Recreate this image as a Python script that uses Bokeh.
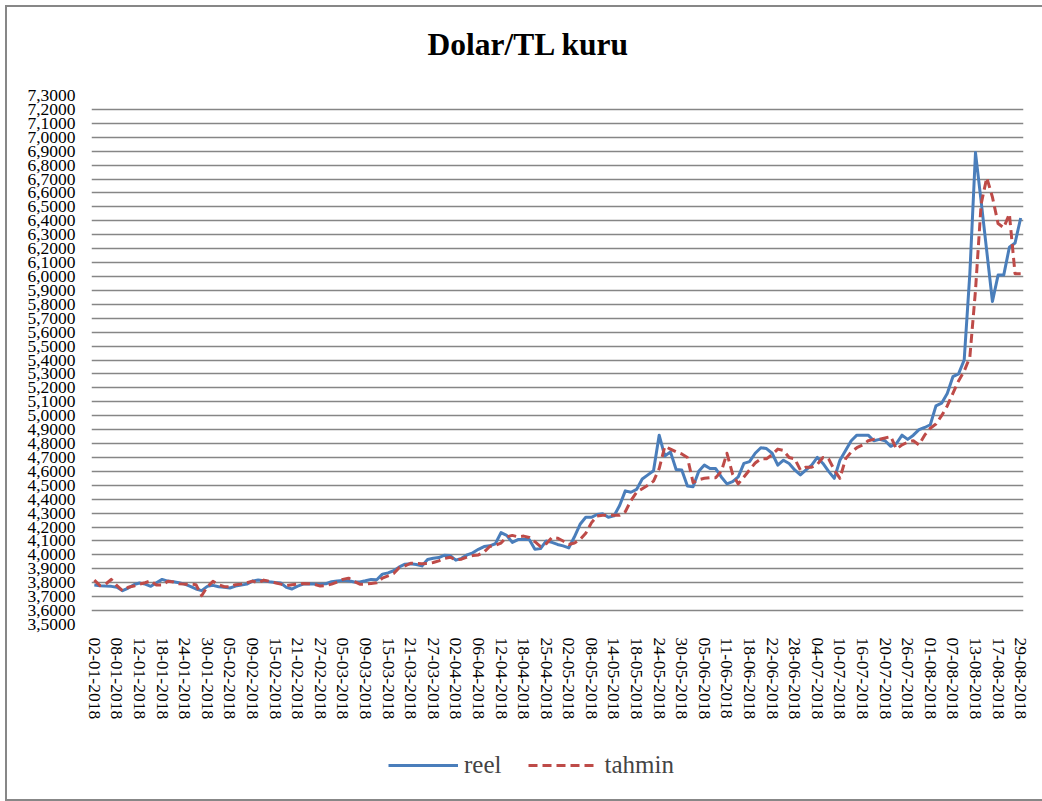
import pandas as pd
from bokeh.plotting import figure
from bokeh.layouts import column
from bokeh.models import (Range1d, FixedTicker, CustomJSTickFormatter,
                          Legend, LegendItem, ColumnDataSource, Title)
from bokeh.embed import file_html
from bokeh.resources import INLINE

# ---- data -------------------------------------------------------------
holidays = ["2018-04-23", "2018-05-01", "2018-06-15",
            "2018-08-21", "2018-08-22", "2018-08-23", "2018-08-24"]
days = [d for d in pd.bdate_range("2018-01-02", "2018-08-29")
        if d.strftime("%Y-%m-%d") not in holidays]
dates = [d.strftime("%d-%m-%Y") for d in days]

reel = [
    3.783, 3.779, 3.776, 3.774, 3.767, 3.743, 3.762, 3.786, 3.798, 3.790,
    3.774, 3.800, 3.824, 3.812, 3.807, 3.800, 3.790, 3.774, 3.755, 3.743,
    3.774, 3.781, 3.771, 3.767, 3.762, 3.776, 3.783, 3.790, 3.812, 3.819,
    3.814, 3.807, 3.802, 3.798, 3.767, 3.755, 3.776, 3.790, 3.793, 3.790,
    3.790, 3.793, 3.807, 3.812, 3.817, 3.814, 3.805, 3.805, 3.814, 3.824,
    3.821, 3.862, 3.871, 3.886, 3.914, 3.933, 3.936, 3.931, 3.921, 3.967,
    3.976, 3.981, 3.998, 3.995, 3.962, 3.975, 4.000, 4.015, 4.040, 4.060,
    4.065, 4.080, 4.160, 4.140, 4.090, 4.110, 4.110, 4.110, 4.040, 4.045,
    4.100, 4.090, 4.075, 4.065, 4.050, 4.130, 4.220, 4.270, 4.270, 4.290,
    4.295, 4.270, 4.280, 4.355, 4.460, 4.450, 4.470, 4.545, 4.575, 4.605,
    4.860, 4.710, 4.740, 4.614, 4.610, 4.495, 4.490, 4.600, 4.645, 4.620,
    4.620, 4.560, 4.510, 4.526, 4.560, 4.657, 4.670, 4.730, 4.770, 4.764,
    4.730, 4.645, 4.680, 4.657, 4.610, 4.574, 4.610, 4.645, 4.700, 4.657,
    4.600, 4.550, 4.680, 4.750, 4.820, 4.860, 4.860, 4.860, 4.820, 4.830,
    4.820, 4.780, 4.800, 4.860, 4.830, 4.860, 4.900, 4.915, 4.935, 5.070,
    5.090, 5.160, 5.280, 5.300, 5.400, 6.020, 6.890, 6.540, 6.180, 5.820,
    6.010, 6.010, 6.210, 6.240, 6.420,
]

tahmin = [
    3.819, 3.779, 3.790, 3.824, 3.779, 3.743, 3.767, 3.776, 3.790, 3.800,
    3.814, 3.783, 3.783, 3.810, 3.805, 3.793, 3.790, 3.790, 3.786, 3.707,
    3.771, 3.810, 3.786, 3.771, 3.771, 3.786, 3.790, 3.800, 3.812, 3.800,
    3.819, 3.810, 3.800, 3.790, 3.779, 3.786, 3.790, 3.795, 3.793, 3.788,
    3.776, 3.779, 3.790, 3.805, 3.824, 3.833, 3.810, 3.790, 3.790, 3.795,
    3.800, 3.833, 3.850, 3.867, 3.910, 3.921, 3.940, 3.938, 3.936, 3.938,
    3.945, 3.957, 3.974, 3.983, 3.964, 3.969, 3.985, 3.995, 4.000, 4.020,
    4.060, 4.070, 4.085, 4.130, 4.140, 4.130, 4.135, 4.125, 4.095, 4.060,
    4.080, 4.125, 4.120, 4.100, 4.075, 4.085, 4.110, 4.155, 4.230, 4.280,
    4.285, 4.285, 4.285, 4.285, 4.310, 4.390, 4.450, 4.475, 4.500, 4.530,
    4.620, 4.780, 4.760, 4.740, 4.725, 4.700, 4.520, 4.540, 4.550, 4.555,
    4.555, 4.600, 4.730, 4.580, 4.510, 4.560, 4.610, 4.660, 4.690, 4.690,
    4.720, 4.760, 4.750, 4.700, 4.690, 4.610, 4.630, 4.630, 4.650, 4.700,
    4.690, 4.610, 4.550, 4.690, 4.740, 4.770, 4.790, 4.820, 4.830, 4.830,
    4.840, 4.850, 4.760, 4.790, 4.810, 4.820, 4.790, 4.860, 4.910, 4.940,
    5.000, 5.070, 5.160, 5.250, 5.320, 5.420, 5.900, 6.520, 6.710, 6.570,
    6.380, 6.350, 6.450, 6.020, 6.020,
]

y_ticks = [round(v / 10, 1) for v in range(35, 74)]
label_step = 4
title_text = "Dolar/TL kuru"
series_names = ["reel", "tahmin"]

# ---- styles -----------------------------------------------------------
SERIF = "Liberation Serif"
BLUE = "#4A7EBB"
RED = "#BE4B48"
DASH = "9 5"
W = 1035

n = len(dates)
idx = list(range(n))
x_ticks = idx[::label_step]

# ---- main chart -------------------------------------------------------
p = figure(
    x_range=Range1d(-0.5, n - 0.5),
    y_range=Range1d(3.5, 7.3),
    width=W, height=718,
    output_backend="svg", toolbar_location=None,
    min_border_left=84, min_border_right=19,
    min_border_top=88, min_border_bottom=101,
)
p.title.visible = False
p.outline_line_color = None
p.background_fill_color = "white"
p.border_fill_color = "white"

# title (spacer next to the frame, then the title itself)
p.add_layout(Title(text=" ", text_font_size="10px", standoff=19), "above")
p.add_layout(Title(text=title_text, align="left", offset=336, standoff=4,
                   text_font=SERIF, text_font_size="31.5px",
                   text_font_style="bold", text_color="black"), "above")

# grid
p.xgrid.visible = False
p.ygrid.ticker = FixedTicker(ticks=y_ticks)
p.ygrid.grid_line_color = "#868686"
p.ygrid.grid_line_width = 1.3

# y axis
p.yaxis.ticker = FixedTicker(ticks=y_ticks)
p.yaxis.formatter = CustomJSTickFormatter(code="return tick.toFixed(4).replace('.', ',');")
p.yaxis.axis_line_color = None
p.yaxis.major_tick_line_color = None
p.yaxis.minor_tick_line_color = None
p.yaxis.major_tick_out = 0
p.yaxis.minor_tick_out = 0
p.yaxis.major_label_standoff = 16
p.yaxis.major_label_text_font = SERIF
p.yaxis.major_label_text_font_size = "17.5px"
p.yaxis.major_label_text_color = "black"

# x axis
p.xaxis.ticker = FixedTicker(ticks=x_ticks)
p.xaxis.major_label_overrides = {i: dates[i] for i in x_ticks}
p.xaxis.axis_line_color = None
p.xaxis.major_tick_line_color = None
p.xaxis.minor_tick_line_color = None
p.xaxis.major_tick_out = 0
p.xaxis.minor_tick_out = 0
p.xaxis.major_label_orientation = "vertical"
p.xaxis.major_label_standoff = 13
p.xaxis.major_label_text_font = SERIF
p.xaxis.major_label_text_font_size = "17.5px"
p.xaxis.major_label_text_color = "black"

# lines
src = ColumnDataSource(dict(idx=idx, date=dates, reel=reel, tahmin=tahmin))
p.line("idx", "reel", source=src, line_color=BLUE, line_width=3, line_join="round")
p.line("idx", "tahmin", source=src, line_color=RED, line_width=3,
       line_dash=DASH, line_join="round")

# ---- legend strip -----------------------------------------------------
lg = figure(
    x_range=Range1d(0, 1), y_range=Range1d(0, 1),
    width=W, height=74,
    output_backend="svg", toolbar_location=None,
    x_axis_type=None, y_axis_type=None,
    min_border=0, min_border_left=0, min_border_right=0,
    min_border_top=0, min_border_bottom=0,
)
lg.title.visible = False
lg.outline_line_color = None
lg.xgrid.visible = False
lg.ygrid.visible = False
lg.background_fill_color = "white"
lg.border_fill_color = "white"

# legend proxies: a single undefined point, so nothing is drawn in the strip
proxy = ColumnDataSource(dict(x=[float("nan")], y=[float("nan")]))
k1 = lg.line("x", "y", source=proxy, line_color=BLUE, line_width=3)
k2 = lg.line("x", "y", source=proxy, line_color=RED, line_width=3, line_dash=DASH)

legend = Legend(
    items=[LegendItem(label=series_names[0], renderers=[k1]),
           LegendItem(label=series_names[1], renderers=[k2])],
    orientation="horizontal", location=(297, 20),
    background_fill_alpha=0, border_line_color=None,
    padding=0, margin=0, spacing=27, label_standoff=6,
    glyph_width=70, glyph_height=26, label_height=26,
    label_text_font=SERIF, label_text_font_size="25px",
)
lg.add_layout(legend, "center")

page = column(p, lg, spacing=0)
page.styles = {"margin": "7px 0 0 7px", "outline": "2px solid #878787"}

open("out.html", "w").write(file_html(page, INLINE))
